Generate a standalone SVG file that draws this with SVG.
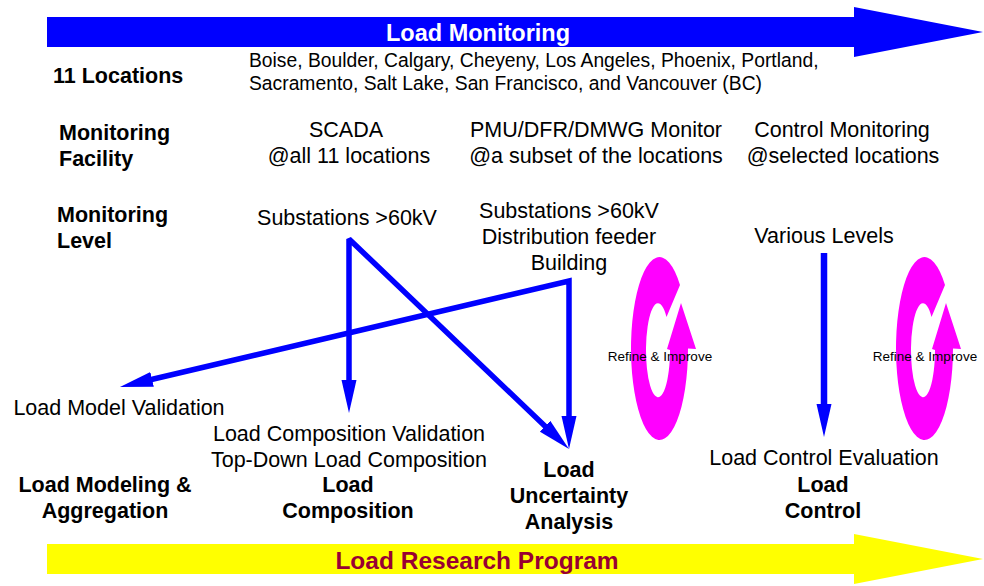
<svg xmlns="http://www.w3.org/2000/svg" width="984" height="586" viewBox="0 0 984 586">
<defs>
<style>
text{font-family:"Liberation Sans",Arial,Helvetica,sans-serif;fill:#000}
.r{font-size:21.5px}
.b{font-size:21.5px;font-weight:bold}
.s{font-size:19.3px}
.c{text-anchor:middle}
.ri{font-size:13.5px;text-anchor:middle}
.conn{fill:none;stroke:#0000FF;stroke-width:5.5;stroke-miterlimit:10}
.ring{fill:#FF00FF}
</style>
<marker id="ah" markerUnits="userSpaceOnUse" markerWidth="34" markerHeight="16" viewBox="0 0 34 16" refX="4" refY="8" orient="auto-start-reverse"><path d="M0,0.5 L33,8 L0,15.5 Z" fill="#0000FF"/></marker>
</defs>
<rect width="984" height="586" fill="#FFFFFF"/>

<g id="load-monitoring">
<polygon points="47,17 854,17 854,7 983,32 854,57 854,47 47,47" fill="#0000FF"/>
<text class="c" x="478" y="41" style="font-size:23.5px;font-weight:bold;fill:#FFFFFF">Load Monitoring</text>
</g>

<g id="load-research-program">
<polygon points="47,544 854,544 854,534 983,559 854,584 854,574 47,574" fill="#FFFF00"/>
<text class="c" x="477" y="569" style="font-size:24.5px;font-weight:bold;fill:#990033">Load Research Program</text>
</g>

<g id="row-locations">
<text class="b" x="53" y="83">11 Locations</text>
<text class="s" x="249" y="67">Boise, Boulder, Calgary, Cheyeny, Los Angeles, Phoenix, Portland,</text>
<text class="s" x="249" y="90">Sacramento, Salt Lake, San Francisco, and Vancouver (BC)</text>
</g>

<g id="row-facility">
<text class="b" x="59" y="140">Monitoring</text>
<text class="b" x="59" y="166">Facility</text>
</g>
<g id="facility-scada">
<text class="r c" x="346" y="137">SCADA</text>
<text class="r c" x="349" y="163">@all 11 locations</text>
</g>
<g id="facility-pmu">
<text class="r c" x="596" y="137">PMU/DFR/DMWG Monitor</text>
<text class="r c" x="596" y="163">@a subset of the locations</text>
</g>
<g id="facility-control">
<text class="r c" x="842" y="137">Control Monitoring</text>
<text class="r c" x="843" y="163">@selected locations</text>
</g>

<g id="row-level">
<text class="b" x="57" y="222">Monitoring</text>
<text class="b" x="57" y="248">Level</text>
</g>
<g id="level-scada">
<text class="r c" x="347" y="225">Substations &gt;60kV</text>
</g>
<g id="level-pmu">
<text class="r c" x="569" y="218">Substations &gt;60kV</text>
<text class="r c" x="569" y="244">Distribution feeder</text>
<text class="r c" x="569" y="270">Building</text>
</g>
<g id="level-control">
<text class="r c" x="824" y="243">Various Levels</text>
</g>

<g id="load-model-validation">
<text class="r c" x="119" y="415">Load Model Validation</text>
</g>
<g id="load-composition-validation">
<text class="r c" x="349" y="441">Load Composition Validation</text>
<text class="r c" x="349" y="467">Top-Down Load Composition</text>
</g>
<g id="load-control-evaluation">
<text class="r c" x="824" y="465">Load Control Evaluation</text>
</g>

<g id="load-modeling">
<text class="b c" x="105" y="492">Load Modeling &amp;</text>
<text class="b c" x="105" y="518">Aggregation</text>
</g>
<g id="load-composition">
<text class="b c" x="348" y="492">Load</text>
<text class="b c" x="348" y="518">Composition</text>
</g>
<g id="load-uncertainty">
<text class="b c" x="569" y="477">Load</text>
<text class="b c" x="569" y="503">Uncertainty</text>
<text class="b c" x="569" y="529">Analysis</text>
</g>
<g id="load-control">
<text class="b c" x="823" y="492">Load</text>
<text class="b c" x="823" y="518">Control</text>
</g>

<g id="refine-improve-1">
<path class="ring" d="M680,285 A28.5,91.5 0 1 0 688,348.5 L696,349 L681,303 L667,349 L670,350 A12,47 0 1 1 666.5,317 Z"/>
<text class="ri" x="660" y="361">Refine &amp; Improve</text>
</g>
<g id="refine-improve-2">
<path class="ring" d="M945,285 A28.5,91.5 0 1 0 953,348.5 L961,349 L946,303 L932,349 L935,350 A12,47 0 1 1 931.5,317 Z"/>
<text class="ri" x="925" y="361">Refine &amp; Improve</text>
</g>

<g id="connectors">
<path class="conn" style="stroke-linejoin:bevel" d="M349,384 L349,239 L548,429" marker-start="url(#ah)" marker-end="url(#ah)"/>
<path class="conn" style="stroke-linejoin:miter" d="M148.2,380.3 L569,281 L569,420" marker-start="url(#ah)" marker-end="url(#ah)"/>
<path class="conn" style="stroke-width:6.5" d="M824,253 L824,408" marker-end="url(#ah)"/>
</g>
</svg>
